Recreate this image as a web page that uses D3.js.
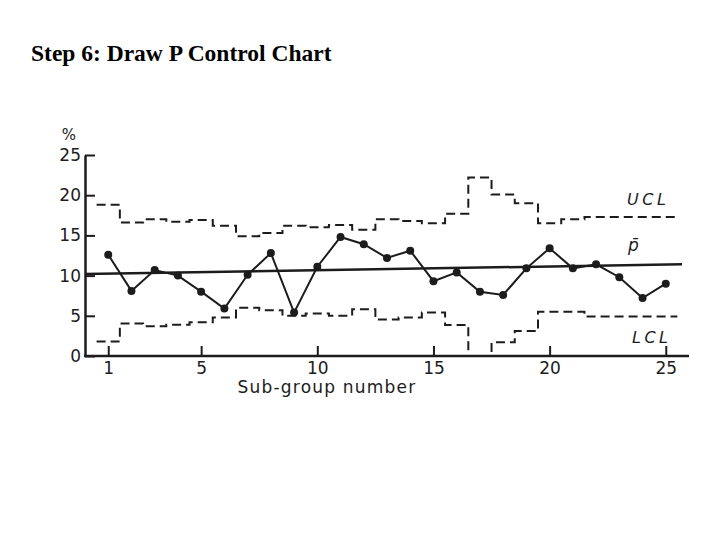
<!DOCTYPE html>
<html>
<head>
<meta charset="utf-8">
<script src="https://cdn.jsdelivr.net/npm/d3@7"></script>
<style>
  html, body { margin: 0; padding: 0; background: #ffffff; }
  svg { display: block; }
</style>
</head>
<body>
<svg id="chart" width="720" height="540"></svg>
<script>
// ---- data ----
const titleText = "Step 6: Draw P Control Chart";
const subgroups = [1,2,3,4,5,6,7,8,9,10,11,12,13,14,15,16,17,18,19,20,21,22,23,24,25];
const pValues   = [12.6, 8.1, 10.7, 10.0, 8.0, 5.9, 10.1, 12.8, 5.4, 11.1, 14.8, 13.9, 12.2,
                   13.1, 9.3, 10.4, 8.0, 7.6, 10.9, 13.4, 10.9, 11.4, 9.8, 7.2, 9.0];
const uclValues = [18.8, 16.6, 17.0, 16.7, 16.9, 16.2, 14.9, 15.3, 16.2, 16.0, 16.3, 15.7, 17.0,
                   16.8, 16.5, 17.7, 22.2, 20.1, 19.0, 16.5, 17.0, 17.3, 17.3, 17.3, 17.3];
const lclValues = [1.8, 4.05, 3.7, 3.9, 4.2, 4.8, 6.0, 5.7, 5.0, 5.3, 5.0, 5.8, 4.55,
                   4.8, 5.4, 3.85, 0, 1.7, 3.1, 5.5, 5.5, 4.9, 4.9, 4.9, 4.9];
const centerLineX = [0, 25.7];      // p-bar line drawn from / to (sub-group units)
const centerLineY = [10.2, 11.4];   // p-bar values at those ends (hand drawn, slightly tilted)
const xTickValues = [1, 5, 10, 15, 20, 25];
const yTickValues = [0, 5, 10, 15, 20, 25];
const xLabel = "Sub-group number";
const yUnit = "%";
const lineLabels = ["UCL", "p\u0304", "LCL"];

// ---- layout ----
const ink = "#1c1c1c";
const svg = d3.select("#chart");
const x = d3.scaleLinear().domain([0, 26]).range([85, 689]);
const y = d3.scaleLinear().domain([0, 25]).range([356, 155]);
const axisFont = "'DejaVu Sans', sans-serif";

// title
svg.append("text")
  .attr("x", 31).attr("y", 61)
  .attr("font-family", "'Liberation Serif', 'Times New Roman', serif")
  .attr("font-weight", "bold")
  .attr("font-size", 23.5)
  .attr("fill", "#000")
  .text(titleText);

// axes
const yAxis = d3.axisLeft(y).tickValues(yTickValues).tickSizeInner(-10).tickSizeOuter(0).tickPadding(4);
const gy = svg.append("g").attr("transform", `translate(${x(0)},0)`).call(yAxis);
const xAxis = d3.axisBottom(x).tickValues(xTickValues).tickSizeInner(-10).tickSizeOuter(0).tickPadding(6);
const gx = svg.append("g").attr("transform", `translate(0,${y(0)})`).call(xAxis);

[gx, gy].forEach(g => {
  g.select(".domain").attr("stroke", ink).attr("stroke-width", 2.5);
  g.selectAll(".tick line").attr("stroke", ink).attr("stroke-width", 2);
  g.selectAll(".tick text").attr("fill", ink).attr("font-family", axisFont).attr("font-size", 17);
});
// extend x-axis domain line to the far right
gx.select(".domain").attr("d", `M${x(0) - 1},0H${x(26)}`);

// % unit
svg.append("text")
  .attr("x", x(0) - 16).attr("y", y(25) - 15)
  .attr("text-anchor", "middle")
  .attr("font-family", axisFont).attr("font-size", 15).attr("fill", ink)
  .text(yUnit);

// x label
svg.append("text")
  .attr("x", 327).attr("y", 393)
  .attr("text-anchor", "middle")
  .attr("font-family", axisFont).attr("font-size", 17)
  .attr("letter-spacing", "1.2px")
  .attr("fill", ink)
  .text(xLabel);

// step-line helper
function stepPoints(values) {
  const pts = [];
  values.forEach((v, i) => {
    const n = subgroups[i];
    pts.push([n - 0.5, v]);
    pts.push([n + 0.5, v]);
  });
  return pts;
}
const line = d3.line().x(d => x(d[0])).y(d => y(d[1]));

// UCL & LCL
[uclValues, lclValues].forEach(vals => {
  svg.append("path")
    .attr("d", line(stepPoints(vals)))
    .attr("fill", "none")
    .attr("stroke", ink)
    .attr("stroke-width", 2)
    .attr("stroke-dasharray", "9,5");
});

// centre line p-bar
svg.append("path")
  .attr("d", line([[centerLineX[0], centerLineY[0]], [centerLineX[1], centerLineY[1]]]))
  .attr("fill", "none").attr("stroke", ink).attr("stroke-width", 2.5);

// data line and points
const pts = subgroups.map((n, i) => [n, pValues[i]]);
svg.append("path")
  .attr("d", line(pts))
  .attr("fill", "none").attr("stroke", ink).attr("stroke-width", 2);
svg.selectAll("circle.pt").data(pts).join("circle")
  .attr("class", "pt")
  .attr("cx", d => x(d[0])).attr("cy", d => y(d[1]))
  .attr("r", 4).attr("fill", ink);

// line labels
svg.append("text")
  .attr("x", 627).attr("y", y(uclValues[24]) - 12)
  .attr("text-anchor", "start")
  .attr("font-family", axisFont).attr("font-style", "italic").attr("font-size", 16)
  .attr("letter-spacing", "3.5px")
  .attr("fill", ink).text(lineLabels[0]);
svg.append("text")
  .attr("x", 628).attr("y", y(centerLineY[1]) - 13)
  .attr("text-anchor", "start")
  .attr("font-family", axisFont).attr("font-style", "italic").attr("font-size", 17)
  .attr("fill", ink).text(lineLabels[1]);
svg.append("text")
  .attr("x", 632).attr("y", y(lclValues[24]) + 26)
  .attr("text-anchor", "start")
  .attr("font-family", axisFont).attr("font-style", "italic").attr("font-size", 16)
  .attr("letter-spacing", "3.5px")
  .attr("fill", ink).text(lineLabels[2]);
</script>
</body>
</html>
